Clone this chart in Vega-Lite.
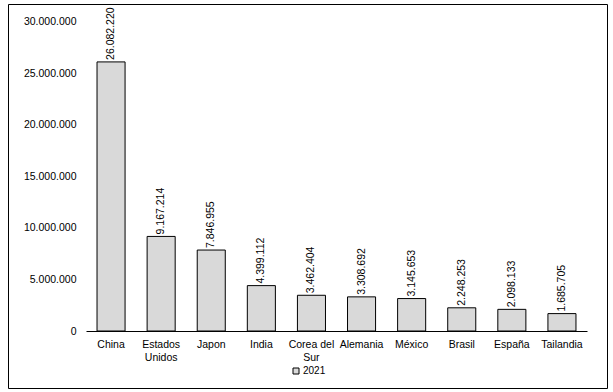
{
  "$schema": "https://vega.github.io/schema/vega-lite/v6.json",
  "width": 599,
  "height": 384,
  "autosize": {"type": "none"},
  "padding": {"left": 8, "top": 4, "right": 6, "bottom": 4},
  "background": "white",
  "config": {
    "locale": {"number": {"decimal": ",", "thousands": ".", "grouping": [3], "currency": ["", " €"]}},
    "view": {"stroke": "black", "strokeWidth": 1},
    "font": "Liberation Sans",
    "axis": {"labelFont": "Liberation Sans", "labelFontSize": 10.5, "labelColor": "black", "grid": false, "ticks": false, "labelLineHeight": 13}
  },
  "data": {
    "values": [
      {"pais": "China", "valor": 26082220, "anio": "2021"},
      {"pais": "Estados Unidos", "valor": 9167214, "anio": "2021"},
      {"pais": "Japon", "valor": 7846955, "anio": "2021"},
      {"pais": "India", "valor": 4399112, "anio": "2021"},
      {"pais": "Corea del Sur", "valor": 3462404, "anio": "2021"},
      {"pais": "Alemania", "valor": 3308692, "anio": "2021"},
      {"pais": "México", "valor": 3145653, "anio": "2021"},
      {"pais": "Brasil", "valor": 2248253, "anio": "2021"},
      {"pais": "España", "valor": 2098133, "anio": "2021"},
      {"pais": "Tailandia", "valor": 1685705, "anio": "2021"}
    ]
  },
  "encoding": {
    "x": {
      "field": "pais", "type": "nominal", "sort": null,
      "scale": {"range": [78, 579], "paddingInner": 0.44, "paddingOuter": 0.22},
      "axis": {
        "title": null, "labelAngle": 0, "offset": -57, "domainColor": "black", "domainWidth": 1,
        "labelPadding": 8, "labelBaseline": "top",
        "labelExpr": "datum.label == 'Estados Unidos' ? ['Estados', 'Unidos'] : datum.label == 'Corea del Sur' ? ['Corea del', 'Sur'] : datum.label"
      }
    },
    "y": {
      "field": "valor", "type": "quantitative",
      "scale": {"domain": [0, 30000000], "range": [327, 17.5], "nice": false},
      "axis": {
        "title": null, "values": [0, 5000000, 10000000, 15000000, 20000000, 25000000, 30000000],
        "format": ",d", "domain": false, "offset": -78, "labelPadding": 10
      }
    }
  },
  "layer": [
    {
      "mark": {"type": "bar", "stroke": "black", "strokeWidth": 1},
      "encoding": {
        "fill": {
          "field": "anio", "type": "nominal",
          "scale": {"range": ["#d9d9d9"]},
          "legend": {
            "orient": "none", "legendX": 283, "legendY": 362, "title": null,
            "symbolType": "square", "symbolSize": 36, "symbolStrokeColor": "black", "symbolStrokeWidth": 1,
            "symbolOpacity": 1, "labelFontSize": 10, "labelFont": "Liberation Sans", "labelColor": "black",
            "labelOffset": 2, "padding": 0
          }
        }
      }
    },
    {
      "mark": {"type": "text", "angle": 270, "align": "left", "baseline": "middle", "dx": 2, "font": "Liberation Sans", "fontSize": 10.5, "color": "black"},
      "encoding": {"text": {"field": "valor", "type": "quantitative", "format": ",d"}}
    }
  ]
}
